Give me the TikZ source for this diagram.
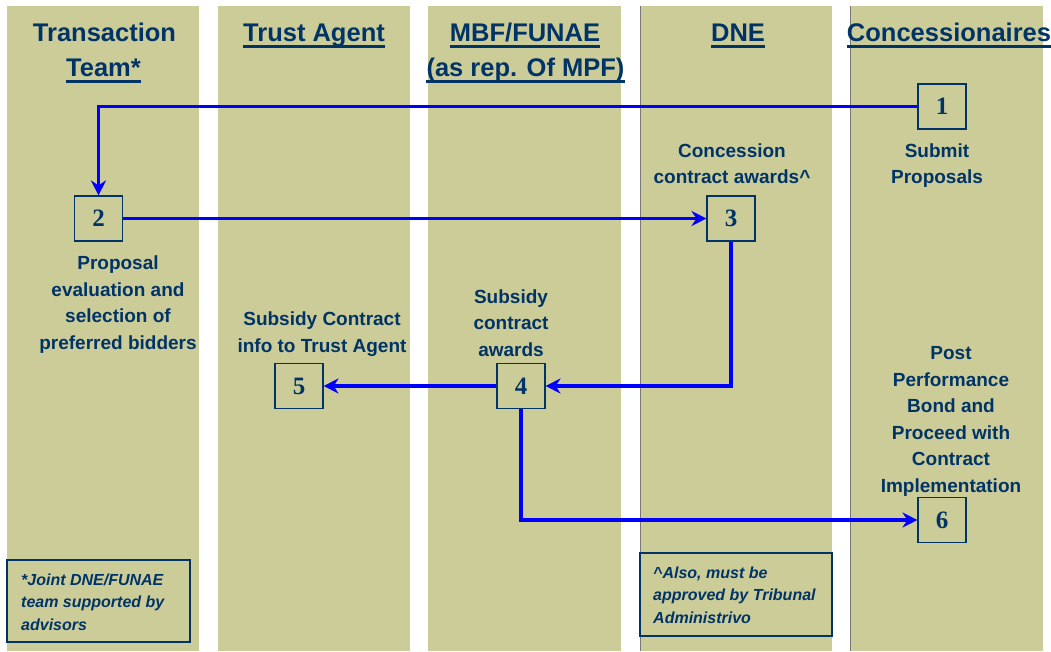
\documentclass[tikz,border=0pt]{standalone}
\usepackage{fontspec}
\setmainfont{Liberation Sans}
\newfontfamily\numfont{Liberation Serif}
\usetikzlibrary{arrows.meta}
\definecolor{lane}{RGB}{204,204,153}
\definecolor{navy}{RGB}{0,51,102}
\definecolor{flow}{RGB}{0,0,255}
\definecolor{edgegray}{RGB}{120,120,120}
\begin{document}
\begin{tikzpicture}[x=1pt,y=-1pt,
 lanebg/.style={fill=lane,draw=none},
 hdr/.style={font=\fontsize{25.5}{35}\selectfont\bfseries, text=navy, inner sep=0pt, anchor=base},
 ul/.style={navy, line width=3pt},
 lbl/.style={font=\fontsize{19}{26.5}\selectfont\bfseries, text=navy, align=center, inner sep=0pt, anchor=base},
 stepbox/.style={draw=navy, line width=1.1pt, minimum width=48pt, minimum height=45pt, inner sep=0pt, font=\numfont\fontsize{25}{25}\selectfont\bfseries, text=navy},
 flowarrow/.style={draw=flow, line width=3.8pt, -{Stealth[length=15pt,width=15pt,inset=5pt]}},
 notebox/.style={draw=navy, line width=1.2pt},
 notetxt/.style={font=\fontsize{16}{22.5}\selectfont\bfseries\itshape, text=navy, align=left, inner sep=0pt, anchor=base west},
]
\useasboundingbox (0,0) rectangle (1051,652);
% lanes
\fill[lanebg] (7,6) rectangle (199,651);
\fill[lanebg] (218,6) rectangle (410,651);
\fill[lanebg] (428,6) rectangle (621,651);
\fill[lanebg] (640,6) rectangle (832,651);
\fill[lanebg] (850,6) rectangle (1043,651);
\draw[edgegray, line width=1pt] (640,6) -- (640,651);
\draw[edgegray, line width=1pt] (850,6) -- (850,651);
% headers
\node[hdr] (h1a) at (104.5,42) {Transaction};
\node[hdr] (h1b) at (103.5,77) {Team*};
\node[hdr] (h2) at (314,42) {Trust Agent};
\node[hdr] (h3a) at (525,42) {MBF/FUNAE};
\node[hdr] (h3b) at (525.5,77) {(as rep. Of MPF)};
\node[hdr] (h4) at (738,42) {DNE};
\node[hdr] (h5) at (949,42) {Concessionaires};
\foreach \h in {h1b,h2,h3a,h3b,h4,h5}
  \draw[ul] ([yshift=-4.5pt]\h.base west) -- ([yshift=-4.5pt]\h.base east);
% step boxes
\node[stepbox] (b1) at (942,106.5) {1};
\node[stepbox] (b2) at (98.5,218.5) {2};
\node[stepbox] (b3) at (731,218.5) {3};
\node[stepbox] (b4) at (521,386) {4};
\node[stepbox] (b5) at (299,386) {5};
\node[stepbox] (b6) at (942,520) {6};
% labels
\node[lbl] (t1) at (937,184) {Submit\\Proposals};
\node[lbl] (t3) at (732,184) {Concession\\contract awards\^{}};
\node[lbl] (t2) at (118,349) {Proposal\\evaluation and\\selection of\\preferred bidders};
\node[lbl] (t5) at (322,352) {Subsidy Contract\\info to Trust Agent};
\node[lbl] (t4) at (511,356) {Subsidy\\contract\\awards};
\node[lbl] (t6) at (951,492) {Post\\Performance\\Bond and\\Proceed with\\Contract\\Implementation};
% notes
\node[notebox, minimum width=183pt, minimum height=82pt, inner sep=0pt] (n1) at (98.5,601) {};
\node[notetxt] (n1t) at (21,630) {*Joint DNE/FUNAE\\team supported by\\advisors};
\node[notebox, minimum width=192pt, minimum height=83pt, inner sep=0pt] (n2) at (736,594.5) {};
\node[notetxt] (n2t) at (653,623) {\^{}Also, must be\\approved by Tribunal\\Administrivo};
% flows
\draw[flowarrow] (b1.west) -| (b2.north);
\draw[flowarrow] (b2.east) -- (b3.west);
\draw[flowarrow] (b3.south) |- (b4.east);
\draw[flowarrow] (b4.west) -- (b5.east);
\draw[flowarrow] (b4.south) |- (b6.west);
\end{tikzpicture}
\end{document}
